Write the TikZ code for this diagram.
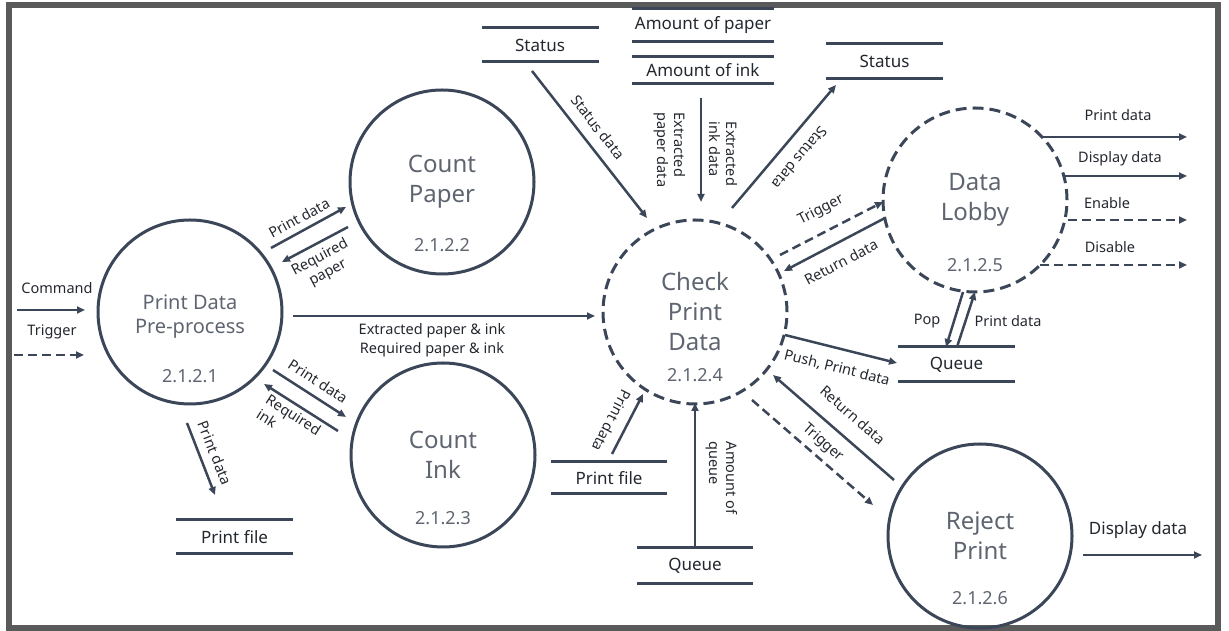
\documentclass[tikz,border=0pt]{standalone}
\usepackage{fontspec}
\setmainfont{Noto Sans}
\usetikzlibrary{arrows.meta,calc}
\definecolor{linec}{HTML}{3B4658}
\definecolor{ctext}{HTML}{5F6570}
\definecolor{ltext}{HTML}{23272E}
\definecolor{framec}{HTML}{5A5A5A}
\newcommand{\dstore}[6]{%
  \node[store, minimum width=#4, minimum height=#5] (#1) at (#2,#3) {#6};
  \draw[storeline] (#1.north west) -- (#1.north east) (#1.south west) -- (#1.south east);}
\begin{document}
\begin{tikzpicture}[x=1pt,y=1pt,
  proc/.style={circle, draw=linec, line width=3pt, minimum size=184pt, inner sep=0pt, text=ctext, align=center, font=\fontsize{24}{30}\selectfont},
  dproc/.style={proc, dash pattern=on 11pt off 6pt},
  num/.style={text=ctext, font=\fontsize{18}{20}\selectfont, inner sep=0pt},
  store/.style={inner sep=0pt, outer sep=0pt, text=ltext, font=\fontsize{17}{20}\selectfont},
  storeline/.style={draw=linec, line width=3pt},
  arr/.style={draw=linec, line width=2.5pt, -{Triangle[length=8pt,width=7pt]}},
  darr/.style={arr, dash pattern=on 9pt off 5pt},
  lab/.style={text=ltext, font=\fontsize{14.5}{17}\selectfont, inner sep=0pt, align=center},
]
\useasboundingbox (0,0) rectangle (1229,631);
\draw[framec, line width=6pt] (9,3) rectangle (1218,626);

% processes
\node[proc] (pdp) at (190,319) {};
\node[text=ctext, align=center, font=\fontsize{20}{24}\selectfont, inner sep=0pt] (pdpt) at (190,314) {Print Data\\Pre-process};
\node[num] (pdpn) at (190,255) {2.1.2.1};
\node[proc] (cp) at (442,449) {Count\\Paper};
\node[num] (cpn) at (442,386) {2.1.2.2};
\node[proc] (ci) at (443,176) {Count\\Ink};
\node[num] (cin) at (443,113) {2.1.2.3};
\node[dproc] (cpd) at (695,319) {Check\\Print\\Data};
\node[num] (cpdn) at (695,256) {2.1.2.4};
\node[dproc] (dl) at (975,431) {Data\\Lobby};
\node[num] (dln) at (975,366) {2.1.2.5};
\node[proc] (rp) at (980,95) {Reject\\Print};
\node[num] (rpn) at (980,33) {2.1.2.6};

% data stores
\dstore{stL}{540}{586}{117pt}{34pt}{Status}
\dstore{sAP}{703}{605.5}{142pt}{33pt}{Amount of paper}
\dstore{sAI}{703}{560.5}{142pt}{27pt}{Amount of ink}
\dstore{sR}{884.5}{569.5}{117pt}{35pt}{Status}
\dstore{pfA}{234.5}{94}{117pt}{34pt}{Print file}
\dstore{pfB}{609}{153}{116pt}{32pt}{Print file}
\dstore{qA}{695}{65}{116pt}{36pt}{Queue}
\dstore{qB}{956.5}{266.5}{117pt}{35pt}{Queue}

% free ends
\coordinate (cmdS) at (17,321);
\coordinate (trgS) at (14,276);
\coordinate (o1) at (1187,494);
\coordinate (o2) at (1187,455);
\coordinate (o3) at (1187,411);
\coordinate (o4) at (1187,366);
\coordinate (o5) at (1202,76);

% inputs
\draw[arr] (cmdS) -- ($(pdp.center)+(-105,2)$);
\node[lab] (lcmd) at (57,343) {Command};
\draw[darr] (trgS) -- ($(pdp.center)+(-106,-43)$);
\node[lab] (ltrg) at (52,299) {Trigger};

% pdp <-> count paper
\draw[arr] ($(pdp.center)+(81,64)$) -- ($(cp.center)+(-96,-25)$);
\node[lab, rotate=28.7] (l3) at (299,413) {Print data};
\draw[arr] ($(cp.center)+(-94,-45)$) -- ($(pdp.center)+(92,50)$);
\node[lab, rotate=28] (l4) at (324,366) {Required\\paper};

% pdp -> cpd
\draw[arr] ($(pdp.center)+(103,-4)$) -- ($(cpd.center)+(-100,-4)$);
\node[lab, font=\fontsize{14.5}{19}\selectfont] (l5) at (432,290.5) {Extracted paper \& ink\\Required paper \& ink};

% pdp <-> count ink
\draw[arr] ($(pdp.center)+(83,-58)$) -- ($(ci.center)+(-97,38)$);
\node[lab, rotate=-33] (l6) at (318,250) {Print data};
\draw[arr] ($(ci.center)+(-105,24)$) -- ($(pdp.center)+(74,-72)$);
\node[lab, rotate=-32.4, align=left] (l7) at (289,209) {Required\\ink};

% pdp -> print file
\draw[arr] ($(pdp.center)+(-3,-111)$) -- ($(pfA.center)+(-19.5,42)$);
\node[lab, rotate=-68.7] (l8) at (215,178) {Print data};

% status -> cpd
\draw[arr] ($(stL.center)+(-8,-26)$) -- ($(cpd.center)+(-48,94)$);
\node[lab, rotate=-52] (l9) at (598,504) {Status data};

% amount -> cpd
\draw[arr] ($(sAI.center)+(-2,-27.5)$) -- ($(cpd.center)+(6,110)$);
\node[lab, rotate=-90, align=left] (l10a) at (670,481) {Extracted\\paper data};
\node[lab, rotate=-90, align=left] (l10b) at (723,477) {Extracted\\ink data};

% cpd -> status right
\draw[arr] ($(cpd.center)+(37,104)$) -- ($(sR.center)+(-48.5,-23.5)$);
\node[lab, rotate=230] (l11) at (800,473) {Status data};

% cpd <-> data lobby
\draw[darr] ($(cpd.center)+(85,57)$) -- ($(dl.center)+(-92,-2)$);
\node[lab, rotate=27] (l12) at (821,421) {Trigger};
\draw[arr] ($(dl.center)+(-90,-18)$) -- ($(cpd.center)+(89,41)$);
\node[lab, rotate=27.7] (l13) at (841,369) {Return data};

% cpd -> queue
\draw[arr] ($(cpd.center)+(90,-23)$) -- ($(qB.center)+(-59.5,1.5)$);
\node[lab, rotate=-14] (l14) at (837,263) {Push, Print data};

% data lobby <-> queue
\draw[arr] ($(dl.center)+(-12,-92)$) -- ($(qB.center)+(-10.5,17.5)$);
\node[lab] (l15) at (927,310) {Pop};
\draw[arr] ($(qB.center)+(0.5,17.5)$) -- ($(dl.center)+(0,-92)$);
\node[lab] (l16) at (1008,310) {Print data};

% data lobby outputs
\draw[arr] ($(dl.center)+(67,63)$) -- (o1);
\node[lab] (l17) at (1118,516) {Print data};
\draw[arr] ($(dl.center)+(90,24)$) -- (o2);
\node[lab] (l18) at (1120,472) {Display data};
\draw[darr] ($(dl.center)+(93,-20)$) -- (o3);
\node[lab] (l19) at (1107,428) {Enable};
\draw[darr] ($(dl.center)+(65,-65)$) -- (o4);
\node[lab] (l20) at (1110,384) {Disable};

% print file -> cpd
\draw[arr] ($(pfB.center)+(3,24)$) -- ($(cpd.center)+(-52,-82)$);
\node[lab, rotate=242.7] (l21) at (612,210) {Print data};

% queue -> cpd
\draw[arr] ($(qA.center)+(0,19)$) -- ($(cpd.center)+(0,-91)$);
\node[lab, rotate=-90, align=left] (l22) at (722,153) {Amount of\\queue};

% reject print <-> cpd
\draw[arr] ($(rp.center)+(-86,56)$) -- ($(cpd.center)+(78,-63)$);
\node[lab, rotate=-41] (l23) at (853,216) {Return data};
\draw[darr] ($(cpd.center)+(57,-88)$) -- ($(rp.center)+(-107,31)$);
\node[lab, rotate=-41] (l24) at (823,188) {Trigger};

% reject output
\draw[arr] ($(rp.center)+(103,-19)$) -- (o5);
\node[lab, font=\fontsize{17}{20}\selectfont] (l25) at (1138,101) {Display data};
\end{tikzpicture}
\end{document}
